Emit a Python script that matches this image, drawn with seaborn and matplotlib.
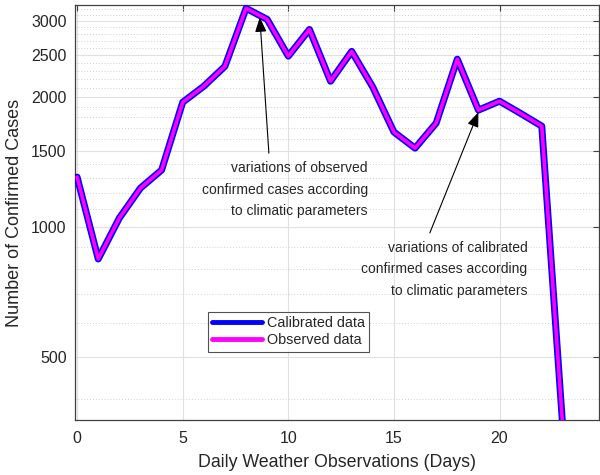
import numpy as np
import pandas as pd
import matplotlib
matplotlib.use("Agg")
import matplotlib.pyplot as plt
from matplotlib.ticker import FixedLocator, NullFormatter, FixedFormatter
import seaborn as sns

days = list(range(24))
observed = [1305, 843, 1049, 1231, 1355, 1946, 2120, 2358, 3213, 3028, 2489, 2870,
            2177, 2553, 2109, 1660, 1523, 1741, 2449, 1866, 1957, 1833, 1713, 340]
calibrated = list(observed)

y_ticks = [500, 1000, 1500, 2000, 2500, 3000]
x_ticks = [0, 5, 10, 15, 20]

sns.set_style("white")
plt.rcParams['font.family'] = ['Liberation Sans', 'DejaVu Sans']

df = pd.DataFrame({
    "day": days * 2,
    "cases": calibrated + observed,
    "series": ["Calibrated data"] * len(days) + ["Observed data"] * len(days),
})

fig = plt.figure(figsize=(6, 4.75), dpi=100)
ax = fig.add_axes([0.125, 0.1158, 0.873, 0.8737])

text_col = "#262626"
sns.lineplot(data=df[df.series == "Calibrated data"], x="day", y="cases", color="#0000ff",
             lw=5, ax=ax, label="Calibrated data", zorder=3)
sns.lineplot(data=df[df.series == "Observed data"], x="day", y="cases", color="#ff00ff",
             lw=2.6, ax=ax, label="Observed data", zorder=4)

ax.set_yscale("log")
ax.set_xlim(-0.1, 24.7)
ax.set_ylim(357, 3270)
ax.yaxis.set_major_locator(FixedLocator(y_ticks))
ax.yaxis.set_major_formatter(FixedFormatter([str(v) for v in y_ticks]))
minors = [v for v in range(400, 3300, 100) if v not in y_ticks]
ax.yaxis.set_minor_locator(FixedLocator(minors))
ax.yaxis.set_minor_formatter(NullFormatter())
ax.xaxis.set_major_locator(FixedLocator(x_ticks))

ax.grid(True, which="major", color="#e0e0e0", lw=0.8, zorder=0)
ax.grid(True, which="minor", axis="y", color="#d0d0d0", lw=0.7, ls=(0, (1, 2)), zorder=0)

for s in ax.spines.values():
    s.set_color("#404040")
    s.set_linewidth(0.9)
ax.tick_params(which="major", direction="in", length=4, top=True, right=True,
               colors="#404040", labelcolor=text_col, labelsize=11.5)
ax.tick_params(axis="x", which="major", pad=8)
ax.tick_params(axis="y", which="major", pad=6)
ax.tick_params(which="minor", direction="in", length=0, left=False, right=False)

ax.set_xlabel("Daily Weather Observations (Days)", fontsize=12.8, color=text_col, labelpad=6)
ax.set_ylabel("Number of Confirmed Cases", fontsize=13, color=text_col, labelpad=6)

arrow_kw = dict(arrowstyle="-|>,head_length=0.9,head_width=0.35", color="black",
                lw=0.8, shrinkA=0, shrinkB=0)
ax.annotate("", xy=(8.65, 3064), xytext=(9.08, 1483), arrowprops=arrow_kw, zorder=5)
ax.annotate("", xy=(19.0, 1846), xytext=(16.7, 969), arrowprops=arrow_kw, zorder=5)

ax.text(13.76, 1421, "variations of observed\nconfirmed cases according\nto climatic parameters",
        ha="right", va="top", multialignment="right", fontsize=10, color=text_col,
        linespacing=1.68)
ax.text(21.32, 928, "variations of calibrated\nconfirmed cases according\nto climatic parameters",
        ha="right", va="top", multialignment="right", fontsize=10, color=text_col,
        linespacing=1.68)

leg = ax.legend(loc="lower left", bbox_to_anchor=(0.253, 0.165), frameon=True, fancybox=False,
                fontsize=10.4, handlelength=3.5, handletextpad=0.3, borderpad=0.3,
                labelspacing=0.22, borderaxespad=0)
leg.get_frame().set_edgecolor("#262626")
leg.get_frame().set_linewidth(0.8)
for h in leg.get_lines():
    h.set_linewidth(3.5)
for t in leg.get_texts():
    t.set_color(text_col)

fig.savefig("out.png", dpi=100, facecolor="white")
